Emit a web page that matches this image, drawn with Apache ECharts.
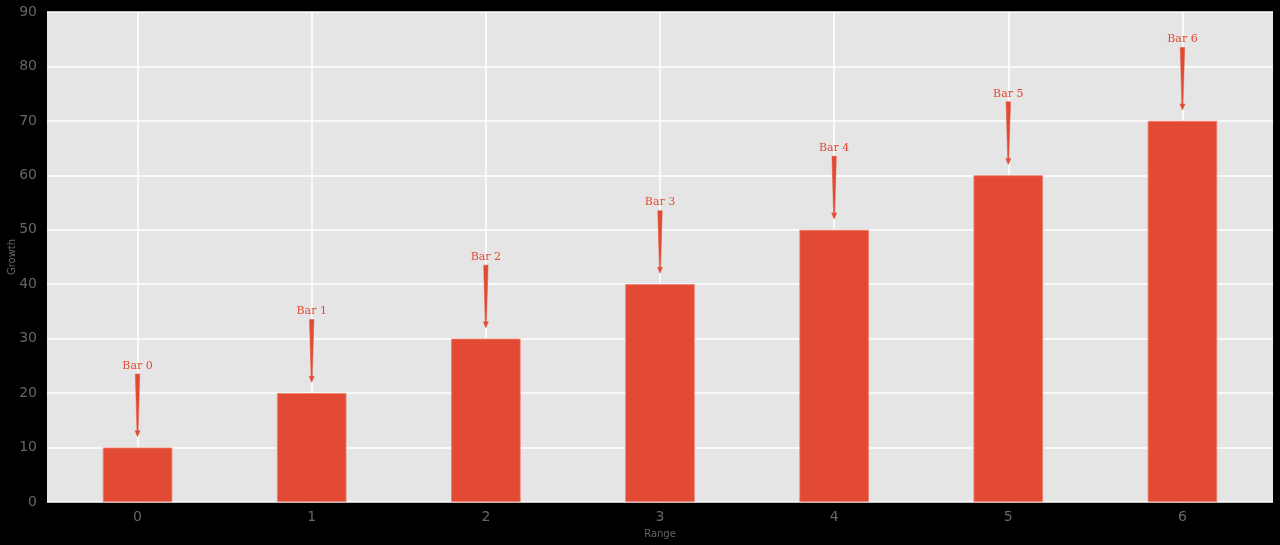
<!DOCTYPE html>
<html><head><meta charset="utf-8">
<script src="https://cdn.jsdelivr.net/npm/echarts@6/dist/echarts.min.js"></script>
<style>html,body{margin:0;padding:0;background:#000;}#c{width:1280px;height:545px;}</style>
</head><body><div id="c"></div>
<script>
const positions = [0, 1, 2, 3, 4, 5, 6];
const growth = [10, 20, 30, 40, 50, 60, 70];
const labels = ['Bar 0', 'Bar 1', 'Bar 2', 'Bar 3', 'Bar 4', 'Bar 5', 'Bar 6'];
const xTicks = [0, 1, 2, 3, 4, 5, 6];
const textOffset = 15, arrowTop = 13.5, arrowTip = 2;

const chart = echarts.init(document.getElementById('c'), null, {renderer: 'canvas'});
const red = '#E24A33';
const tickColor = '#666';
const option = {
  backgroundColor: '#000',
  animation: false,
  grid: {left: 47, right: 7, top: 12, bottom: 43, show: true, backgroundColor: '#E5E5E5', borderWidth: 0,
         containLabel: false, outerBoundsMode: 'none'},
  xAxis: {
    type: 'value', min: -0.52, max: 6.52,
    name: 'Range', nameLocation: 'middle', nameGap: 27, nameMoveOverlap: false,
    nameTextStyle: {color: tickColor, fontSize: 10, fontFamily: 'DejaVu Sans'},
    axisLine: {show: false}, axisTick: {show: false}, splitLine: {show: false},
    axisLabel: {customValues: xTicks, color: tickColor, fontSize: 14, fontFamily: 'DejaVu Sans', margin: 8}
  },
  yAxis: {
    type: 'value', min: 0, max: 90, interval: 10,
    name: 'Growth', nameLocation: 'middle', nameGap: 30, nameMoveOverlap: false,
    nameTextStyle: {color: tickColor, fontSize: 10, fontFamily: 'DejaVu Sans'},
    axisLine: {show: false}, axisTick: {show: false},
    splitLine: {lineStyle: {color: '#fff', width: 1.5}},
    axisLabel: {color: tickColor, fontSize: 14, fontFamily: 'DejaVu Sans', margin: 10}
  },
  series: [
    {
      type: 'bar', barWidth: 69.5,
      data: positions.map((p, i) => [p, growth[i]]),
      itemStyle: {color: red, borderColor: '#f08070', borderWidth: 0.8},
      z: 3,
      markLine: {
        silent: true, symbol: 'none', label: {show: false},
        lineStyle: {color: '#fff', width: 1.5, type: 'solid'},
        data: xTicks.map(v => ({xAxis: v})),
        z: 1
      }
    },
    {
      type: 'custom', z: 5, clip: false,
      data: positions.map((p, i) => [p, growth[i], i]),
      renderItem: function (params, api) {
        const x = api.value(0), v = api.value(1), i = api.value(2);
        const t = api.coord([x, v + arrowTop]);
        const b = api.coord([x, v + arrowTip]);
        const lab = api.coord([x, v + textOffset]);
        return {
          type: 'group',
          children: [
            {type: 'polygon', shape: {points: [[t[0] - 2.2, t[1]], [t[0] + 2.2, t[1]], [b[0] + 0.6, b[1] - 6], [b[0] + 2.5, b[1] - 6], [b[0], b[1]], [b[0] - 2.5, b[1] - 6], [b[0] - 0.6, b[1] - 6]]},
              style: {fill: red, stroke: red, lineWidth: 0.5}},
            {type: 'text', x: lab[0], y: lab[1], style: {text: labels[i], fill: red, font: '11px "DejaVu Serif"', align: 'center', verticalAlign: 'middle'}}
          ]
        };
      }
    }
  ]
};
chart.setOption(option);
</script></body></html>
